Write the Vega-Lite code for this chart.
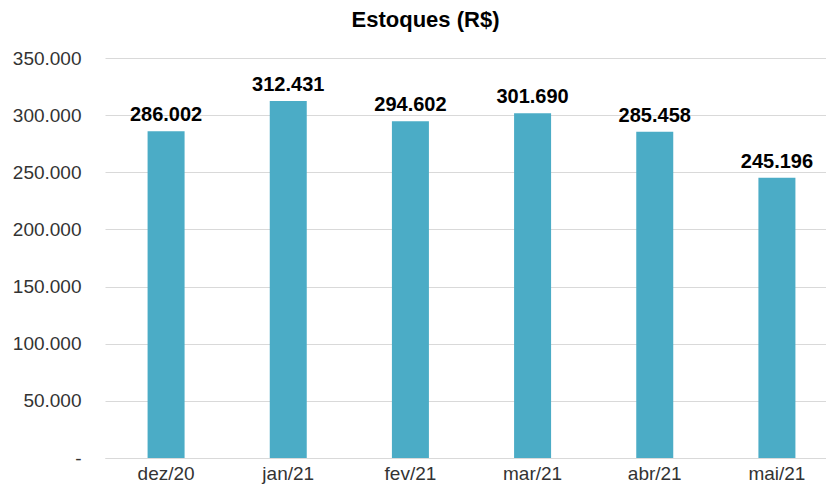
{
  "$schema": "https://vega.github.io/schema/vega-lite/v6.json",
  "width": 733,
  "height": 400,
  "autosize": {"type": "none"},
  "padding": {"left": 105, "top": 58, "right": 0, "bottom": 30},
  "background": "white",
  "config": {
    "view": {"stroke": null},
    "font": "Liberation Sans",
    "locale": {"number": {"decimal": ",", "thousands": ".", "grouping": [3], "currency": ["R$", ""]}}
  },
  "title": {
    "text": "Estoques (R$)",
    "font": "Liberation Sans",
    "fontSize": 22,
    "fontWeight": "bold",
    "color": "#000000",
    "anchor": "middle",
    "dx": -46,
    "offset": 17
  },
  "data": {
    "values": [
      {"mes": "dez/20", "valor": 286002},
      {"mes": "jan/21", "valor": 312431},
      {"mes": "fev/21", "valor": 294602},
      {"mes": "mar/21", "valor": 301690},
      {"mes": "abr/21", "valor": 285458},
      {"mes": "mai/21", "valor": 245196}
    ]
  },
  "encoding": {
    "x": {
      "field": "mes",
      "type": "nominal",
      "sort": null,
      "scale": {"paddingInner": 0, "paddingOuter": 0},
      "axis": {
        "title": null,
        "labelAngle": 0,
        "labelFontSize": 19,
        "labelColor": "#333333",
        "labelPadding": 6,
        "ticks": false,
        "domain": true,
        "domainColor": "#d9d9d9",
        "grid": false
      }
    },
    "y": {
      "field": "valor",
      "type": "quantitative",
      "scale": {"domain": [0, 350000], "nice": false},
      "axis": {
        "title": null,
        "values": [0, 50000, 100000, 150000, 200000, 250000, 300000, 350000],
        "labelExpr": "datum.value == 0 ? '-' : format(datum.value, ',d')",
        "labelFontSize": 19,
        "labelColor": "#333333",
        "labelPadding": 24,
        "ticks": false,
        "domain": false,
        "grid": true,
        "gridColor": "#d9d9d9",
        "gridWidth": 1
      }
    }
  },
  "layer": [
    {
      "mark": {"type": "bar", "color": "#4bacc6", "size": 37}
    },
    {
      "mark": {
        "type": "text",
        "baseline": "alphabetic",
        "dy": -10,
        "fontSize": 20,
        "fontWeight": "bold",
        "color": "#000000"
      },
      "encoding": {
        "text": {"field": "valor", "type": "quantitative", "format": ",d"}
      }
    }
  ]
}
